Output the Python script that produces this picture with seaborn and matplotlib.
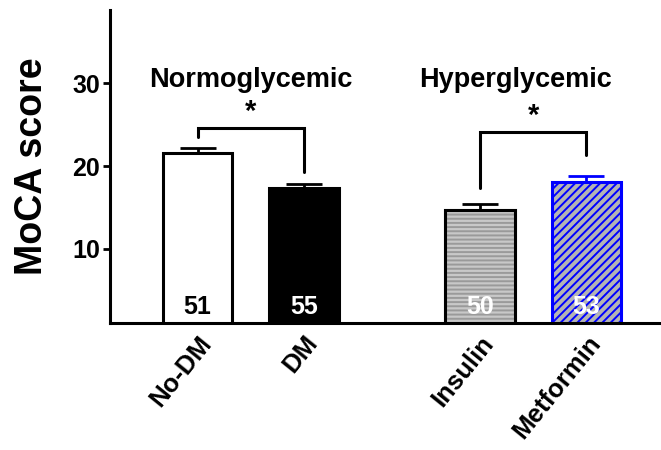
import numpy as np
import pandas as pd
import seaborn as sns
import matplotlib.pyplot as plt
from matplotlib.patches import Rectangle
from matplotlib.transforms import ScaledTranslation

# data
grupos = ['No-DM', 'DM', 'Insulin', 'Metformin']
posicoes = [0.0, 1.0, 2.65, 3.65]
medias = [21.6, 17.35, 14.7, 18.1]
sem = [0.6, 0.5, 0.7, 0.7]
n_amostra = ['51', '55', '50', '53']

titulos = ['Normoglycemic', 'Hyperglycemic']
deslocamento_titulo = [0.0, -0.17]
# bracket: (left bar, right bar, top, left leg end, right leg end)
colchetes = [(0, 1, 24.6, 23.5, 19.3), (2, 3, 24.1, 17.4, 21.3)]

cores = ['white', 'black', '#c8c8c8', '#b4b4b4']
bordas = ['black', 'black', '#9a9a9a', '#0000ff']
hachuras = [None, None, '----', '////']
cor_erro = ['black', 'black', 'black', '#0000ff']
cor_n = ['black', 'white', 'white', 'white']

sns.set_style('ticks')
plt.rcParams['font.family'] = ['Liberation Sans', 'DejaVu Sans']
plt.rcParams['font.weight'] = 'bold'
plt.rcParams['hatch.linewidth'] = 1.4
for chave in ['text.color', 'axes.labelcolor', 'xtick.color', 'ytick.color', 'axes.edgecolor']:
    plt.rcParams[chave] = 'black'

df = pd.DataFrame({'pos': posicoes, 'grupo': grupos, 'media': medias})

fig = plt.figure(figsize=(6.61, 4.5), dpi=100)
ax = fig.add_axes([0.1664, 0.2822, 0.8336, 0.6956])

sns.barplot(data=df, x='pos', y='media', hue='grupo', hue_order=grupos,
            palette=dict(zip(grupos, cores)), native_scale=True, width=0.65,
            legend=False, ax=ax, zorder=2)

for p in ax.patches:
    cx = p.get_x() + p.get_width() / 2
    i = int(np.argmin([abs(cx - q) for q in posicoes]))
    p.set_facecolor(cores[i])
    p.set_linewidth(2.2)
    p.set_edgecolor(bordas[i])
    if hachuras[i]:
        p.set_hatch(hachuras[i])
    if i == 2:
        # grey hatch lines but black outline
        contorno = Rectangle((p.get_x(), p.get_y()), p.get_width(), p.get_height(),
                             fill=False, edgecolor='black', linewidth=2.2, zorder=3)
        ax.add_patch(contorno)

for i in range(len(grupos)):
    ax.errorbar(posicoes[i], medias[i], yerr=[[0], [sem[i]]], fmt='none',
                ecolor=cor_erro[i], elinewidth=2.0, capsize=13, capthick=2.0, zorder=1)
    ax.text(posicoes[i], 3.0, n_amostra[i], ha='center', va='center',
            fontsize=18, fontweight='bold', color=cor_n[i], zorder=4)

for (a, b, topo, ya, yb), titulo, dx in zip(colchetes, titulos, deslocamento_titulo):
    xa, xb = posicoes[a], posicoes[b]
    ax.plot([xa, xa, xb, xb], [ya, topo, topo, yb], color='black', lw=2.2,
            solid_joinstyle='miter', zorder=3)
    ax.text((xa + xb) / 2, topo + 0.2, '*', ha='center', va='bottom',
            fontsize=21, fontweight='bold')
    ax.text((xa + xb) / 2 + dx, 29.5, titulo, ha='center', va='baseline',
            fontsize=19.5, fontweight='bold')

ax.set_xlim(-0.822, 4.35)
ax.set_ylim(1.08, 38.8)
ax.set_yticks([10, 20, 30])
ax.set_yticklabels(['10', '20', '30'], fontsize=18, fontweight='bold')
ax.set_xticks(posicoes)
ax.set_xticklabels(grupos, fontsize=18.5, fontweight='bold', rotation=51,
                   ha='right', va='top', rotation_mode='anchor')
desloca = ScaledTranslation(13 / 100, 0, fig.dpi_scale_trans)
for lbl in ax.get_xticklabels():
    lbl.set_transform(lbl.get_transform() + desloca)

ax.tick_params(axis='x', length=0, pad=6)
ax.tick_params(axis='y', length=5, width=2, pad=2)
ax.set_xlabel('')
ax.set_ylabel('MoCA score', fontsize=27, fontweight='bold', labelpad=16)

for lado in ['top', 'right']:
    ax.spines[lado].set_visible(False)
ax.spines['left'].set_linewidth(2.2)
ax.spines['bottom'].set_linewidth(2.2)

plt.savefig('out.png', dpi=100)
